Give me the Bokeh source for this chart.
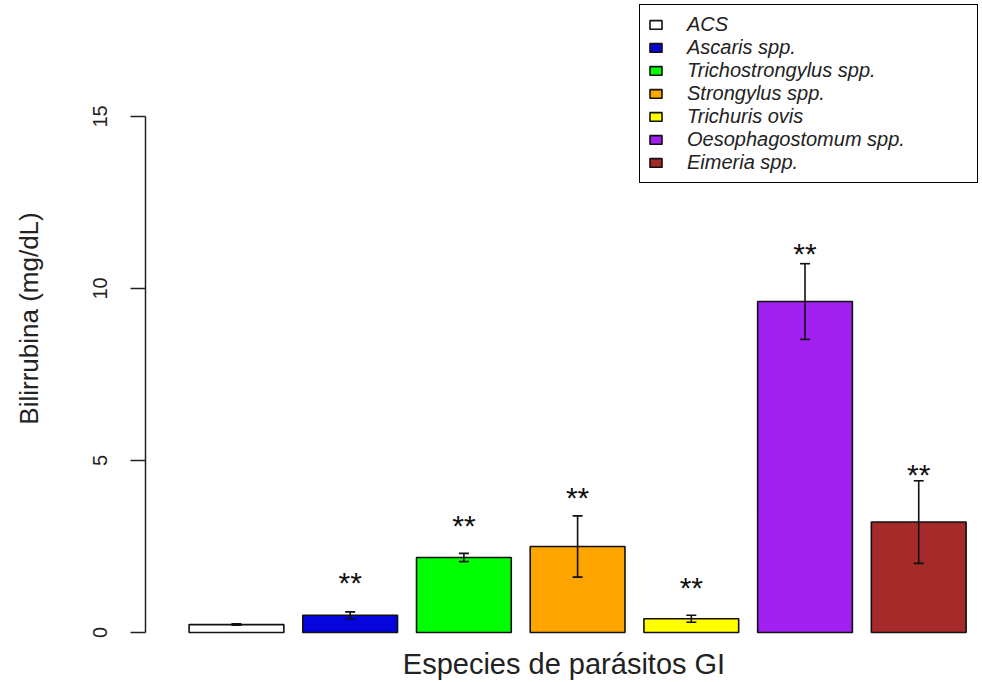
from bokeh.plotting import figure
from bokeh.models import (ColumnDataSource, Whisker, TeeHead, Legend, LegendItem,
                          FixedTicker, Range1d)
from bokeh.core.properties import value
from bokeh.embed import file_html
from bokeh.resources import INLINE

# ---- data ----
species = ["ACS", "Ascaris spp.", "Trichostrongylus spp.", "Strongylus spp.",
           "Trichuris ovis", "Oesophagostomum spp.", "Eimeria spp."]
means = [0.23, 0.50, 2.18, 2.50, 0.40, 9.62, 3.21]
sds = [0.02, 0.10, 0.12, 0.89, 0.10, 1.10, 1.20]
sig_labels = ["", "**", "**", "**", "**", "**", "**"]
sig_heights = [0.0, 1.50, 3.16, 3.98, 1.37, 11.08, 4.66]
colors = ["#FFFFFF", "#0505DC", "#00FF00", "#FFA500", "#FFFF00", "#A020F0", "#A52A2A"]
y_ticks = [0, 5, 10, 15]

FONT = "Liberation Sans"

# barplot positions (R style: width 1, space 0.2)
xpos = [0.7 + 1.2 * i for i in range(len(species))]

src = ColumnDataSource(dict(
    x=xpos, top=means, color=colors, name=species,
    upper=[m + s for m, s in zip(means, sds)],
    lower=[m - s for m, s in zip(means, sds)],
))

p = figure(width=982, height=682, output_backend="svg", toolbar_location=None,
           x_range=Range1d(-0.260, 8.573), y_range=Range1d(-0.116, 18.37),
           min_border_left=145, min_border_right=0, min_border_top=0,
           min_border_bottom=46)
p.outline_line_color = None
p.grid.visible = False
p.background_fill_color = "white"
p.border_fill_color = "white"

bars = p.vbar(x="x", top="top", bottom=0, width=1.0, source=src,
              fill_color="color", line_color="#111111", line_width=1.6)

whisk = Whisker(source=src, base="x", upper="upper", lower="lower",
                line_color="#111111", line_width=1.6, level="annotation",
                upper_head=TeeHead(size=10, line_color="#111111", line_width=1.6),
                lower_head=TeeHead(size=10, line_color="#111111", line_width=1.6))
p.add_layout(whisk)

# significance stars
sx = [x for x, s in zip(xpos, sig_labels) if s]
sy = [y for y, s in zip(sig_heights, sig_labels) if s]
st = [s for s in sig_labels if s]
p.text(x=sx, y=sy, text=st, text_font=value(FONT), text_font_size="30px",
       text_align="center", text_baseline="middle", text_color="#111111",
       y_offset=2)

# y axis
p.yaxis.ticker = FixedTicker(ticks=y_ticks)
p.yaxis.bounds = (0, 15)
p.yaxis.minor_tick_line_color = None
p.yaxis.major_tick_in = 0
p.yaxis.major_tick_out = 15
p.yaxis.axis_line_width = 1.5
p.yaxis.major_tick_line_width = 1.5
p.yaxis.axis_line_color = "#222222"
p.yaxis.major_tick_line_color = "#222222"
p.yaxis.major_label_orientation = "vertical"
p.yaxis.major_label_text_font = FONT
p.yaxis.major_label_text_font_size = "20px"
p.yaxis.major_label_text_color = "#222222"
p.yaxis.major_label_standoff = 23
p.yaxis.axis_label = "Bilirrubina (mg/dL)"
p.yaxis.axis_label_text_font = FONT
p.yaxis.axis_label_text_font_size = "26px"
p.yaxis.axis_label_text_font_style = "normal"
p.yaxis.axis_label_text_color = "#222222"
p.yaxis.axis_label_standoff = 47

# x axis: title only
p.xaxis.ticker = FixedTicker(ticks=[])
p.xaxis.axis_line_color = None
p.xaxis.major_tick_line_color = None
p.xaxis.minor_tick_line_color = None
p.xaxis.major_label_text_font_size = "0px"
p.xaxis.axis_label = "Especies de parásitos GI"
p.xaxis.axis_label_text_font = FONT
p.xaxis.axis_label_text_font_size = "29px"
p.xaxis.axis_label_text_font_style = "normal"
p.xaxis.axis_label_text_color = "#222222"
p.xaxis.axis_label_standoff = 11

# legend
items = [LegendItem(label=n, renderers=[bars], index=i) for i, n in enumerate(species)]
legend = Legend(items=items, location="top_right", margin=4,
                border_line_color="black", border_line_width=1.5,
                border_line_alpha=1.0,
                background_fill_color="white", background_fill_alpha=1.0,
                label_text_font=FONT, label_text_font_style="italic",
                label_text_font_size="20px", label_text_color="#222222",
                glyph_width=15, glyph_height=11, label_standoff=24,
                label_height=18, label_width=282, padding=8, spacing=0)
p.add_layout(legend)

open("out.html", "w").write(file_html(p, INLINE))
